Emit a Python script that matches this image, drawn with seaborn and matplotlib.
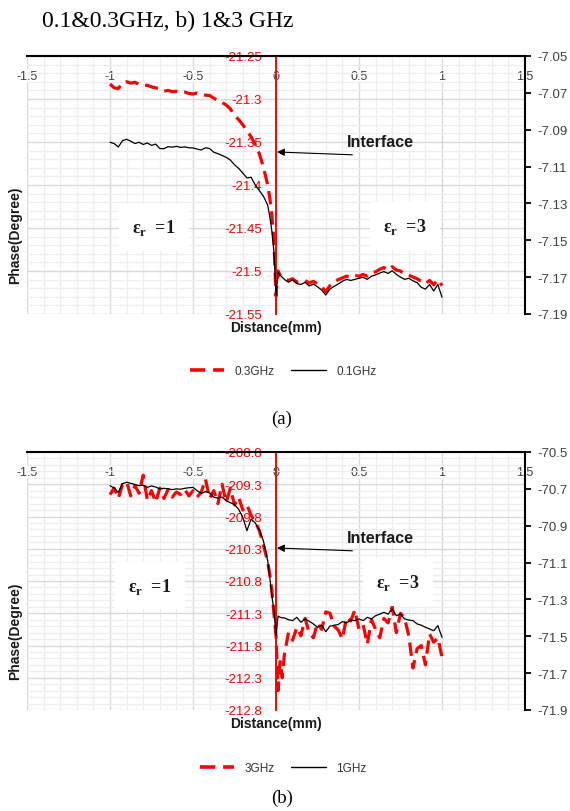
import numpy as np
import pandas as pd
import matplotlib
matplotlib.use("Agg")
import matplotlib.pyplot as plt
import seaborn as sns
from matplotlib.ticker import MultipleLocator
from matplotlib.lines import Line2D

# ---------------- data ----------------
X = [-1.0, -0.975, -0.95, -0.925, -0.9, -0.875, -0.85, -0.825, -0.8, -0.775,
     -0.75, -0.725, -0.7, -0.675, -0.65, -0.625, -0.6, -0.575, -0.55, -0.525,
     -0.5, -0.475, -0.45, -0.425, -0.4, -0.375, -0.35, -0.325, -0.3, -0.275,
     -0.25, -0.225, -0.2, -0.175, -0.15, -0.125, -0.1, -0.075, -0.05, -0.0375,
     -0.025, -0.0125, 0.0, 0.0125, 0.025, 0.0375, 0.05, 0.075, 0.1, 0.125,
     0.15, 0.175, 0.2, 0.225, 0.25, 0.275, 0.3, 0.325, 0.35, 0.375,
     0.4, 0.425, 0.45, 0.475, 0.5, 0.525, 0.55, 0.575, 0.6, 0.625,
     0.65, 0.675, 0.7, 0.725, 0.75, 0.775, 0.8, 0.825, 0.85, 0.875,
     0.9, 0.925, 0.95, 0.975, 1.0]

phase_03GHz = [-21.2826, -21.2870, -21.2880, -21.2810, -21.2800, -21.2815, -21.2805, -21.2830, -21.2845, -21.2840,
               -21.2860, -21.2870, -21.2880, -21.2910, -21.2900, -21.2915, -21.2910, -21.2925, -21.2920, -21.2935,
               -21.2942, -21.2930, -21.2940, -21.2955, -21.2960, -21.2990, -21.3020, -21.3040, -21.3070, -21.3116,
               -21.3190, -21.3240, -21.3300, -21.3370, -21.3440, -21.3530, -21.3640, -21.3800, -21.4000, -21.4150,
               -21.4350, -21.4650, -21.5291, -21.5000, -21.5050, -21.5070, -21.5080, -21.5110, -21.5090, -21.5130,
               -21.5120, -21.5110, -21.5140, -21.5120, -21.5150, -21.5180, -21.5240, -21.5170, -21.5130, -21.5100,
               -21.5080, -21.5060, -21.5070, -21.5050, -21.5060, -21.5040, -21.5060, -21.5020, -21.5010, -21.4980,
               -21.4960, -21.4990, -21.4950, -21.4990, -21.5000, -21.5040, -21.5050, -21.5070, -21.5090, -21.5120,
               -21.5150, -21.5110, -21.5160, -21.5100, -21.5170]

phase_01GHz = [-7.0968, -7.0975, -7.0994, -7.0960, -7.0952, -7.0962, -7.0975, -7.0968, -7.0980, -7.0972,
               -7.0985, -7.0978, -7.1002, -7.1003, -7.0992, -7.0995, -7.0990, -7.0996, -7.0993, -7.0998,
               -7.0999, -7.1005, -7.1010, -7.0998, -7.1002, -7.1022, -7.1030, -7.1040, -7.1050, -7.1065,
               -7.1090, -7.1110, -7.1135, -7.1162, -7.1158, -7.1200, -7.1230, -7.1262, -7.1310, -7.1370,
               -7.1450, -7.1560, -7.1800, -7.1672, -7.1690, -7.1700, -7.1712, -7.1728, -7.1715, -7.1735,
               -7.1740, -7.1728, -7.1748, -7.1738, -7.1752, -7.1770, -7.1797, -7.1765, -7.1750, -7.1737,
               -7.1722, -7.1712, -7.1718, -7.1712, -7.1706, -7.1701, -7.1712, -7.1695, -7.1688, -7.1678,
               -7.1670, -7.1680, -7.1665, -7.1685, -7.1700, -7.1712, -7.1706, -7.1720, -7.1730, -7.1755,
               -7.1765, -7.1740, -7.1775, -7.1740, -7.1809]

phase_3GHz = [-209.46, -209.36, -209.52, -209.30, -209.26, -209.48, -209.32, -209.44, -209.16, -209.55,
              -209.40, -209.58, -209.36, -209.52, -209.38, -209.50, -209.42, -209.46, -209.38, -209.48,
              -209.40, -209.50, -209.42, -209.22, -209.52, -209.40, -209.60, -209.30, -209.58, -209.36,
              -209.62, -209.50, -209.70, -209.62, -209.78, -209.88, -210.02, -210.25, -210.50, -210.70,
              -210.95, -211.30, -211.65, -212.50, -212.05, -212.30, -211.95, -211.60, -211.72, -211.52,
              -211.65, -211.38, -211.60, -211.68, -211.45, -211.55, -211.28, -211.30, -211.50, -211.56,
              -211.70, -211.36, -211.42, -211.25, -211.55, -211.48, -211.78, -211.40, -211.55, -211.68,
              -211.38, -211.45, -211.20, -211.60, -211.30, -211.38, -211.65, -212.15, -211.85, -211.80,
              -212.10, -211.62, -211.75, -211.68, -211.98]

phase_1GHz = [-70.683, -70.695, -70.719, -70.672, -70.664, -70.670, -70.676, -70.683, -70.680, -70.692,
              -70.684, -70.690, -70.701, -70.697, -70.700, -70.704, -70.700, -70.702, -70.697, -70.694,
              -70.692, -70.710, -70.725, -70.715, -70.722, -70.746, -70.750, -70.744, -70.765, -70.775,
              -70.785, -70.811, -70.854, -70.927, -70.864, -70.885, -70.925, -70.985, -71.090, -71.180,
              -71.280, -71.360, -71.497, -71.390, -71.397, -71.400, -71.400, -71.410, -71.415, -71.397,
              -71.424, -71.406, -71.418, -71.433, -71.451, -71.440, -71.475, -71.445, -71.440, -71.436,
              -71.420, -71.428, -71.412, -71.415, -71.406, -71.415, -71.397, -71.406, -71.388, -71.380,
              -71.370, -71.380, -71.352, -71.388, -71.380, -71.406, -71.412, -71.415, -71.433, -71.440,
              -71.451, -71.460, -71.470, -71.442, -71.506]

x_ticks = [-1.5, -1.0, -0.5, 0.0, 0.5, 1.0, 1.5]
x_tick_labels = ['-1.5', '-1', '-0.5', '0', '0.5', '1', '1.5']

red_ticks_a = [-21.55, -21.5, -21.45, -21.4, -21.35, -21.3, -21.25]
red_labels_a = ['-21.55', '-21.5', '-21.45', '-21.4', '-21.35', '-21.3', '-21.25']
blk_ticks_a = [-7.19, -7.17, -7.15, -7.13, -7.11, -7.09, -7.07, -7.05]
blk_labels_a = ['-7.19', '-7.17', '-7.15', '-7.13', '-7.11', '-7.09', '-7.07', '-7.05']

red_ticks_b = [-212.8, -212.3, -211.8, -211.3, -210.8, -210.3, -209.8, -209.3, -208.8]
red_labels_b = ['-212.8', '-212.3', '-211.8', '-211.3', '-210.8', '-210.3', '-209.8', '-209.3', '-208.8']
blk_ticks_b = [-71.9, -71.7, -71.5, -71.3, -71.1, -70.9, -70.7, -70.5]
blk_labels_b = ['-71.9', '-71.7', '-71.5', '-71.3', '-71.1', '-70.9', '-70.7', '-70.5']

for arr in (phase_03GHz, phase_01GHz, phase_3GHz, phase_1GHz):
    assert len(arr) == len(X)

# ---------------- style ----------------
sns.set_theme(style="white")
plt.rcParams['font.family'] = ['Liberation Sans', 'DejaVu Sans']
plt.rcParams['mathtext.fontset'] = 'custom'
plt.rcParams['mathtext.rm'] = 'Liberation Serif:bold'
plt.rcParams['mathtext.bf'] = 'Liberation Serif:bold'

W, H = 570, 812
fig = plt.figure(figsize=(W / 100, H / 100), dpi=100)

RED = '#ff0000'
TXT = '#404040'


def make_panel(top_px, red_vals, blk_vals, red_ticks, red_labels, red_minor,
               blk_ticks, blk_labels, names, eps1, eps3, legend_y, caption, caption_y):
    left, right, bottom = 27, 525, top_px + 258
    ax = fig.add_axes([left / W, 1 - bottom / H, (right - left) / W, 258 / H])
    df = pd.DataFrame({'Distance': X, 'red': red_vals, 'black': blk_vals})

    sns.lineplot(data=df, x='Distance', y='red', ax=ax, color=RED, linewidth=2.3,
                 errorbar=None, sort=False)
    ax.lines[-1].set_dashes((4.2, 2.2))
    ax.lines[-1].set_solid_capstyle('butt')

    ax.set_xlim(-1.5, 1.5)
    ax.set_ylim(red_ticks[0], red_ticks[-1])
    ax.set_xlabel('')
    ax.set_ylabel('')

    # x axis on top, labels inside
    ax.set_xticks(x_ticks)
    ax.set_xticklabels(x_tick_labels)
    ax.xaxis.set_minor_locator(MultipleLocator(0.1))
    ax.tick_params(axis='x', which='both', top=True, bottom=False, labeltop=True,
                   labelbottom=False, length=0, pad=-19, labelsize=9, labelcolor=TXT)

    # red axis at x = 0
    ax.set_yticks(red_ticks)
    ax.set_yticklabels(red_labels)
    ax.yaxis.set_minor_locator(MultipleLocator(red_minor))
    ax.tick_params(axis='y', which='both', length=0, pad=10, labelsize=9.5, labelcolor=RED)

    for lbl in ax.get_xticklabels() + ax.get_yticklabels():
        lbl.set_bbox(dict(fc='white', ec='none', pad=0.6))

    ax.grid(which='major', color='#d9d9d9', linewidth=1.0)
    ax.grid(which='minor', color='#eeeeee', linewidth=0.9)
    ax.set_axisbelow(True)

    for s in ['right', 'bottom']:
        ax.spines[s].set_visible(False)
    ax.spines['top'].set_color('black')
    ax.spines['top'].set_linewidth(1.5)
    ax.spines['left'].set_position(('data', 0))
    ax.spines['left'].set_color(RED)
    ax.spines['left'].set_linewidth(1.4)

    # secondary axis (black)
    ax2 = ax.twinx()
    sns.lineplot(data=df, x='Distance', y='black', ax=ax2, color='black', linewidth=0.9,
                 errorbar=None, sort=False)
    ax2.set_ylim(blk_ticks[0], blk_ticks[-1])
    ax2.set_yticks(blk_ticks)
    ax2.set_yticklabels(blk_labels)
    ax2.set_ylabel('')
    ax2.grid(False)
    ax2.tick_params(axis='y', which='both', length=4, width=1.3, direction='out',
                    color='black', pad=5, labelsize=9.5, labelcolor=TXT, right=True)
    for s in ['left', 'top', 'bottom']:
        ax2.spines[s].set_visible(False)
    ax2.spines['right'].set_color('black')
    ax2.spines['right'].set_linewidth(1.5)

    xy_tr = ax.get_xaxis_transform()
    # Interface annotation
    ax2.annotate('', xy=(0.006, 0.628), xycoords=xy_tr, xytext=(0.46, 0.617), textcoords=xy_tr,
                 arrowprops=dict(arrowstyle='-|>', color='black', lw=0.8, mutation_scale=11,
                                 shrinkA=0, shrinkB=0))
    ax2.text(0.627, 0.668, 'Interface', transform=xy_tr, ha='center', va='center',
             fontsize=11.5, fontweight='bold', color='#1a1a1a')

    # epsilon labels
    for (ex, ey, txt) in (eps1 + ('=1',), eps3 + ('=3',)):
        ax2.text(ex, ey, 'ε$_\\mathrm{r}$  ' + txt, transform=xy_tr, ha='center', va='center',
                 fontsize=13, fontweight='bold', family='Liberation Serif', color='#1a1a1a',
                 bbox=dict(boxstyle='square,pad=0.75', fc='white', ec='none'), zorder=5)

    # axis titles
    fig.text(15 / W, 1 - (top_px + 178) / H, 'Phase(Degree)', rotation=90, ha='center',
             va='center', fontsize=10, fontweight='bold', color='#1a1a1a')
    fig.text(276 / W, 1 - (bottom + 13) / H, 'Distance(mm)', ha='center', va='center',
             fontsize=10, fontweight='bold', color='#1a1a1a')

    # legend
    handles = [Line2D([0], [0], color=RED, lw=2.6, dashes=(4.2, 2.2), solid_capstyle='butt'),
               Line2D([0], [0], color='black', lw=1.0)]
    fig.legend(handles, names, loc='center', bbox_to_anchor=(0.497, 1 - legend_y / H), ncol=2,
               frameon=False, fontsize=8.5, handlelength=2.9, handletextpad=0.9,
               columnspacing=1.4, labelcolor='#333333')

    fig.text(282 / W, 1 - caption_y / H, caption, ha='center', va='center', fontsize=13.5,
             family='Liberation Serif', color='black')
    return ax, ax2


make_panel(57, phase_03GHz, phase_01GHz, red_ticks_a, red_labels_a, 0.01,
           blk_ticks_a, blk_labels_a, ['0.3GHz', '0.1GHz'],
           (-0.735, 0.337), (0.777, 0.341), 372, '(a)', 419)

make_panel(453, phase_3GHz, phase_1GHz, red_ticks_b, red_labels_b, 0.1,
           blk_ticks_b, blk_labels_b, ['3GHz', '1GHz'],
           (-0.759, 0.481), (0.735, 0.496), 769, '(b)', 798)

fig.text(42 / W, 1 - 27.5 / H, '0.1&0.3GHz, b) 1&3 GHz', ha='left', va='baseline',
         fontsize=17, family='Liberation Serif', color='black')

fig.savefig('out.png', dpi=100)
